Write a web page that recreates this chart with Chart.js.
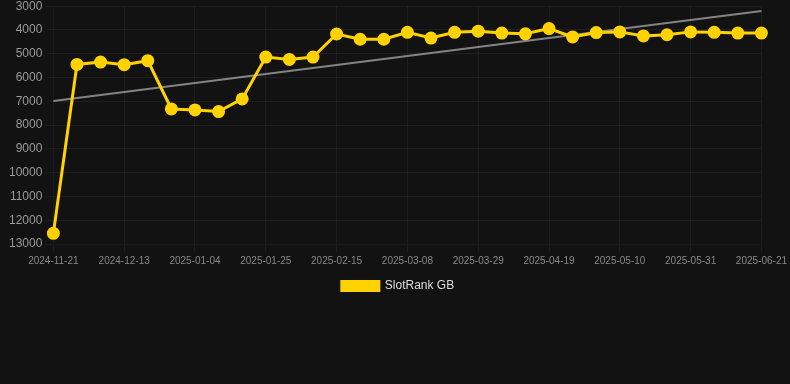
<!DOCTYPE html>
<html>
<head>
<meta charset="utf-8">
<script src="https://cdn.jsdelivr.net/npm/chart.js@4"></script>
<style>
    html, body { margin: 0; padding: 0; background: #121212; overflow: hidden; }
    .wrap { position: relative; top: -4px; width: 790px; height: 306px; }
</style>
</head>
<body>
<div class="wrap"><canvas id="rankChart"></canvas></div>
<script>
const dates = [
    '2024-11-21', '2024-11-29', '2024-12-06', '2024-12-13', '2024-12-20', '2024-12-28',
    '2025-01-04', '2025-01-11', '2025-01-18', '2025-01-25', '2025-02-01', '2025-02-08',
    '2025-02-15', '2025-02-22', '2025-03-01', '2025-03-08', '2025-03-15', '2025-03-22',
    '2025-03-29', '2025-04-05', '2025-04-12', '2025-04-19', '2025-04-26', '2025-05-03',
    '2025-05-10', '2025-05-17', '2025-05-24', '2025-05-31', '2025-06-07', '2025-06-14',
    '2025-06-21'
];
const rankGB = [
    12550, 5450, 5350, 5460, 5290, 7320, 7360, 7430, 6900, 5140, 5240,
    5140, 4170, 4390, 4390, 4100, 4340, 4100, 4050, 4130, 4160, 3940,
    4290, 4110, 4080, 4250, 4200, 4080, 4100, 4130, 4130
];
const trend = [6990].concat(new Array(29).fill(null), [3200]);

document.addEventListener('DOMContentLoaded', () => {
    new Chart(document.getElementById('rankChart').getContext('2d'), {
        type: 'line',
        data: {
            labels: dates,
            datasets: [{
                label: 'SlotRank GB',
                data: rankGB,
                borderColor: '#ffd200',
                backgroundColor: '#ffd200',
                borderWidth: 3,
                pointRadius: 5,
                pointHoverRadius: 5,
                tension: 0
            }, {
                label: 'trend',
                data: trend,
                spanGaps: true,
                borderColor: 'rgba(160, 160, 160, 0.8)',
                borderWidth: 2,
                pointRadius: 0,
                tension: 0
            }]
        },
        options: {
            responsive: true,
            maintainAspectRatio: false,
            animation: false,
            layout: { padding: { left: 6 } },
            plugins: {
                legend: {
                    position: 'bottom',
                    labels: {
                        color: '#dddddd',
                        font: { family: 'Liberation Sans, Arial', size: 12 },
                        boxWidth: 37,
                        boxHeight: 9,
                        filter: item => item.text !== 'trend'
                    }
                },
                tooltip: { enabled: false }
            },
            scales: {
                y: {
                    reverse: true,
                    min: 3000,
                    max: 13000,
                    ticks: {
                        stepSize: 1000,
                        color: '#999999',
                        callback: v => String(v),
                        font: { family: 'Liberation Sans, Arial', size: 12 }
                    },
                    grid: { color: 'rgba(255, 255, 255, 0.05)' }
                },
                x: {
                    ticks: {
                        color: '#888888',
                        maxRotation: 0,
                        autoSkip: true,
                        font: { family: 'Liberation Sans, Arial', size: 10 }
                    },
                    grid: { color: 'rgba(255, 255, 255, 0.05)' }
                }
            }
        }
    });
});
</script>
</body>
</html>
